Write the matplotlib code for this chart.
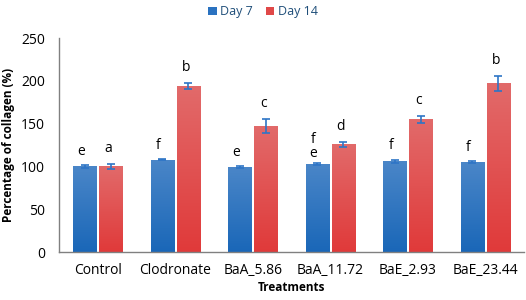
import matplotlib
matplotlib.use("Agg")
import matplotlib.pyplot as plt
import numpy as np
from matplotlib.colors import LinearSegmentedColormap
from matplotlib.patches import Patch

categories = ["Control", "Clodronate", "BaA_5.86", "BaA_11.72", "BaE_2.93", "BaE_23.44"]
day7 = [100, 108, 99, 103, 106, 105]
day7_err = [1.5, 1, 1, 1, 2, 1]
day14 = [100, 194, 147, 126, 155, 197]
day14_err = [3, 4, 8, 3, 4, 9]
letters7 = ["e", "f", "e", "f\ne", "f", "f"]
letters14 = ["a", "b", "c", "d", "c", "b"]
yticks = [0, 50, 100, 150, 200, 250]

plt.rcParams['font.family'] = ['Open Sans', 'DejaVu Sans']
fig = plt.figure(figsize=(5.26, 3.0), dpi=100)
ax = fig.add_axes([0.112, 0.16, 0.884, 0.713])

x = np.arange(len(categories))
w = 0.30
gap = 0.035
blue_cmap = LinearSegmentedColormap.from_list("b", ["#1a67b8", "#4a86c8"])
red_cmap = LinearSegmentedColormap.from_list("r", ["#e03a3a", "#e26a6a"])

def grad_bars(bars, cmap):
    for b in bars:
        xx, yy = b.get_x(), b.get_y()
        ww, hh = b.get_width(), b.get_height()
        grad = np.linspace(0, 1, 100).reshape(-1, 1)
        im = ax.imshow(grad, extent=[xx, xx + ww, yy, yy + hh], origin='lower',
                       aspect='auto', cmap=cmap, zorder=2)
        im.set_clip_path(b)
        b.set_facecolor('none')

b7 = ax.bar(x - w / 2 - gap / 2, day7, w, zorder=2, edgecolor='none')
b14 = ax.bar(x + w / 2 + gap / 2, day14, w, zorder=2, edgecolor='none')
grad_bars(b7, blue_cmap)
grad_bars(b14, red_cmap)
ax.errorbar(x - w / 2 - gap / 2, day7, yerr=day7_err, fmt='none', ecolor='#2e75c6',
            capsize=3, elinewidth=1.2, capthick=1.2, zorder=3)
ax.errorbar(x + w / 2 + gap / 2, day14, yerr=day14_err, fmt='none', ecolor='#2e75c6',
            capsize=3, elinewidth=1.2, capthick=1.2, zorder=3)

for i in range(len(categories)):
    t7 = letters7[i]
    if "\n" in t7:
        a, bb = t7.split("\n")
        ax.text(x[i] - w / 2 - gap / 2 - 0.05, day7[i] + day7_err[i] + 28, a, ha='center', va='center', fontsize=10)
        ax.text(x[i] - w / 2 - gap / 2 - 0.05, day7[i] + day7_err[i] + 11, bb, ha='center', va='center', fontsize=10)
    else:
        ax.text(x[i] - w / 2 - gap / 2 - 0.05, day7[i] + day7_err[i] + 16, t7, ha='center', va='center', fontsize=10)
    ax.text(x[i] + w / 2 + gap / 2 - 0.03, day14[i] + day14_err[i] + 18, letters14[i], ha='center', va='center', fontsize=10)

ax.set_xlim(-0.5, len(categories) - 0.5)
ax.set_ylim(0, 250)
ax.set_yticks(yticks)
ax.set_xticks(x)
ax.set_xticklabels(categories, fontsize=10)
ax.tick_params(axis='y', labelsize=10, length=0, pad=10)
ax.tick_params(axis='x', length=0, pad=8)
for s in ['top', 'right']:
    ax.spines[s].set_visible(False)
for s in ['left', 'bottom']:
    ax.spines[s].set_color('#808080')
    ax.spines[s].set_linewidth(1.0)
ax.set_ylabel("Percentage of collagen (%)", fontsize=8.5, fontweight='bold', labelpad=4)
ax.set_xlabel("Treatments", fontsize=8.5, fontweight='bold', labelpad=2)

handles = [Patch(facecolor='#2a72c0', label='Day 7'), Patch(facecolor='#e04848', label='Day 14')]
leg = fig.legend(handles=handles, loc='upper center', bbox_to_anchor=(0.5, 1.02), ncol=2,
                 frameon=False, fontsize=9, handlelength=0.7, handleheight=0.7,
                 handletextpad=0.3, columnspacing=1.0)
for t in leg.get_texts():
    t.set_color('#1f4e79')

fig.savefig("out.png", dpi=100)
